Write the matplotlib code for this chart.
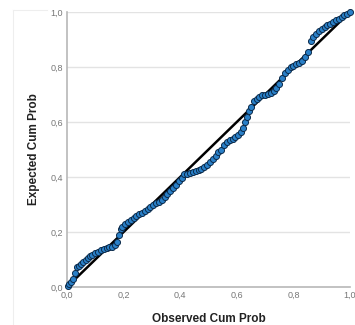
import matplotlib
matplotlib.use("Agg")
import matplotlib.pyplot as plt
from matplotlib.lines import Line2D

# Observed vs expected cumulative probabilities
observed = [0.003, 0.008, 0.013, 0.020, 0.028,
            0.035, 0.042, 0.050, 0.058, 0.066, 0.074, 0.082, 0.090, 0.100, 0.110,
            0.120, 0.130, 0.140, 0.150, 0.160, 0.170, 0.178, 0.185, 0.190, 0.195,
            0.205, 0.215, 0.225, 0.235, 0.245, 0.255, 0.265, 0.275, 0.285, 0.295,
            0.305, 0.315, 0.325, 0.335, 0.345, 0.355, 0.365, 0.375, 0.385, 0.395,
            0.405, 0.415,
            0.425, 0.435, 0.445, 0.455, 0.465, 0.475, 0.485, 0.495, 0.505, 0.515,
            0.525, 0.535, 0.545, 0.555, 0.565, 0.575, 0.585, 0.595, 0.605, 0.615,
            0.622,
            0.628, 0.635, 0.643, 0.650, 0.660, 0.670, 0.680, 0.690, 0.700, 0.710,
            0.720, 0.730, 0.740, 0.750, 0.760, 0.770, 0.780, 0.790, 0.800, 0.810,
            0.820, 0.830, 0.840, 0.850,
            0.862, 0.870, 0.880, 0.890, 0.900, 0.910, 0.920, 0.930, 0.940, 0.950,
            0.960, 0.970, 0.980, 0.990, 1.000]
expected = [0.003, 0.010, 0.017, 0.030, 0.050,
            0.073, 0.078, 0.085, 0.092, 0.100, 0.106, 0.112, 0.117, 0.122, 0.128,
            0.133, 0.138, 0.142, 0.145, 0.147, 0.152, 0.165, 0.190, 0.210, 0.220,
            0.230, 0.238, 0.245, 0.252, 0.258, 0.265, 0.270, 0.276, 0.282, 0.290,
            0.298, 0.304, 0.310, 0.318, 0.328, 0.338, 0.350, 0.360, 0.370, 0.385,
            0.395, 0.410,
            0.412, 0.416, 0.420, 0.422, 0.425, 0.430, 0.437, 0.445, 0.455, 0.466,
            0.478, 0.490, 0.500, 0.515, 0.527, 0.535, 0.540, 0.545, 0.552, 0.565,
            0.580,
            0.600, 0.620, 0.640, 0.655, 0.675, 0.685, 0.690, 0.700, 0.700, 0.703,
            0.706, 0.712, 0.725, 0.740, 0.760, 0.780, 0.790, 0.800, 0.805, 0.810,
            0.815, 0.822, 0.835, 0.855,
            0.895, 0.910, 0.920, 0.930, 0.938, 0.945, 0.952, 0.958, 0.965, 0.970,
            0.976, 0.982, 0.988, 0.994, 1.000]
ref_line = [0.0, 1.0]
ticks = [0.0, 0.2, 0.4, 0.6, 0.8, 1.0]
tick_labels = ["0,0", "0,2", "0,4", "0,6", "0,8", "1,0"]

W, H = 355, 325
fig = plt.figure(figsize=(W / 100, H / 100), dpi=100)
fig.patch.set_facecolor("white")

# faint outer chart frame
fig.add_artist(Line2D([13 / W, 13 / W], [0, 1 - 10 / H], color="#eeeeee", lw=0.8))
fig.add_artist(Line2D([13 / W, 47 / W], [1 - 10 / H, 1 - 10 / H], color="#eeeeee", lw=0.8))

ax = fig.add_axes([67 / W, 1 - 287 / H, (350 - 67) / W, (287 - 12) / H])
ax.set_xlim(0, 1)
ax.set_ylim(0, 1)

for t in ticks[1:]:
    ax.axhline(t, color="#e3e3e3", lw=1.0, zorder=0)

ax.plot(ref_line, ref_line, color="black", lw=1.8, zorder=3, solid_capstyle="butt")
ax.scatter(observed, expected, s=19, facecolor="#2a80c8", edgecolor="#0b2a4a",
           linewidths=0.7, zorder=4, clip_on=False)

for s in ["top", "right"]:
    ax.spines[s].set_visible(False)
for s in ["left", "bottom"]:
    ax.spines[s].set_color("#b8b8b8")
    ax.spines[s].set_linewidth(1.2)

ax.set_xticks(ticks)
ax.set_xticklabels(tick_labels)
ax.set_yticks(ticks)
ax.set_yticklabels(tick_labels)
ax.tick_params(length=0, labelsize=6.5, labelcolor="#777777", pad=3)
for lab in ax.get_xticklabels() + ax.get_yticklabels():
    lab.set_family("Liberation Sans")

ax.set_xlabel("Observed Cum Prob", fontsize=8.5, fontweight="bold",
              family="Liberation Sans", color="#222222", labelpad=9)
ax.set_ylabel("Expected Cum Prob", fontsize=8.5, fontweight="bold",
              family="Liberation Sans", color="#222222", labelpad=7)

fig.savefig("out.png", dpi=100)
